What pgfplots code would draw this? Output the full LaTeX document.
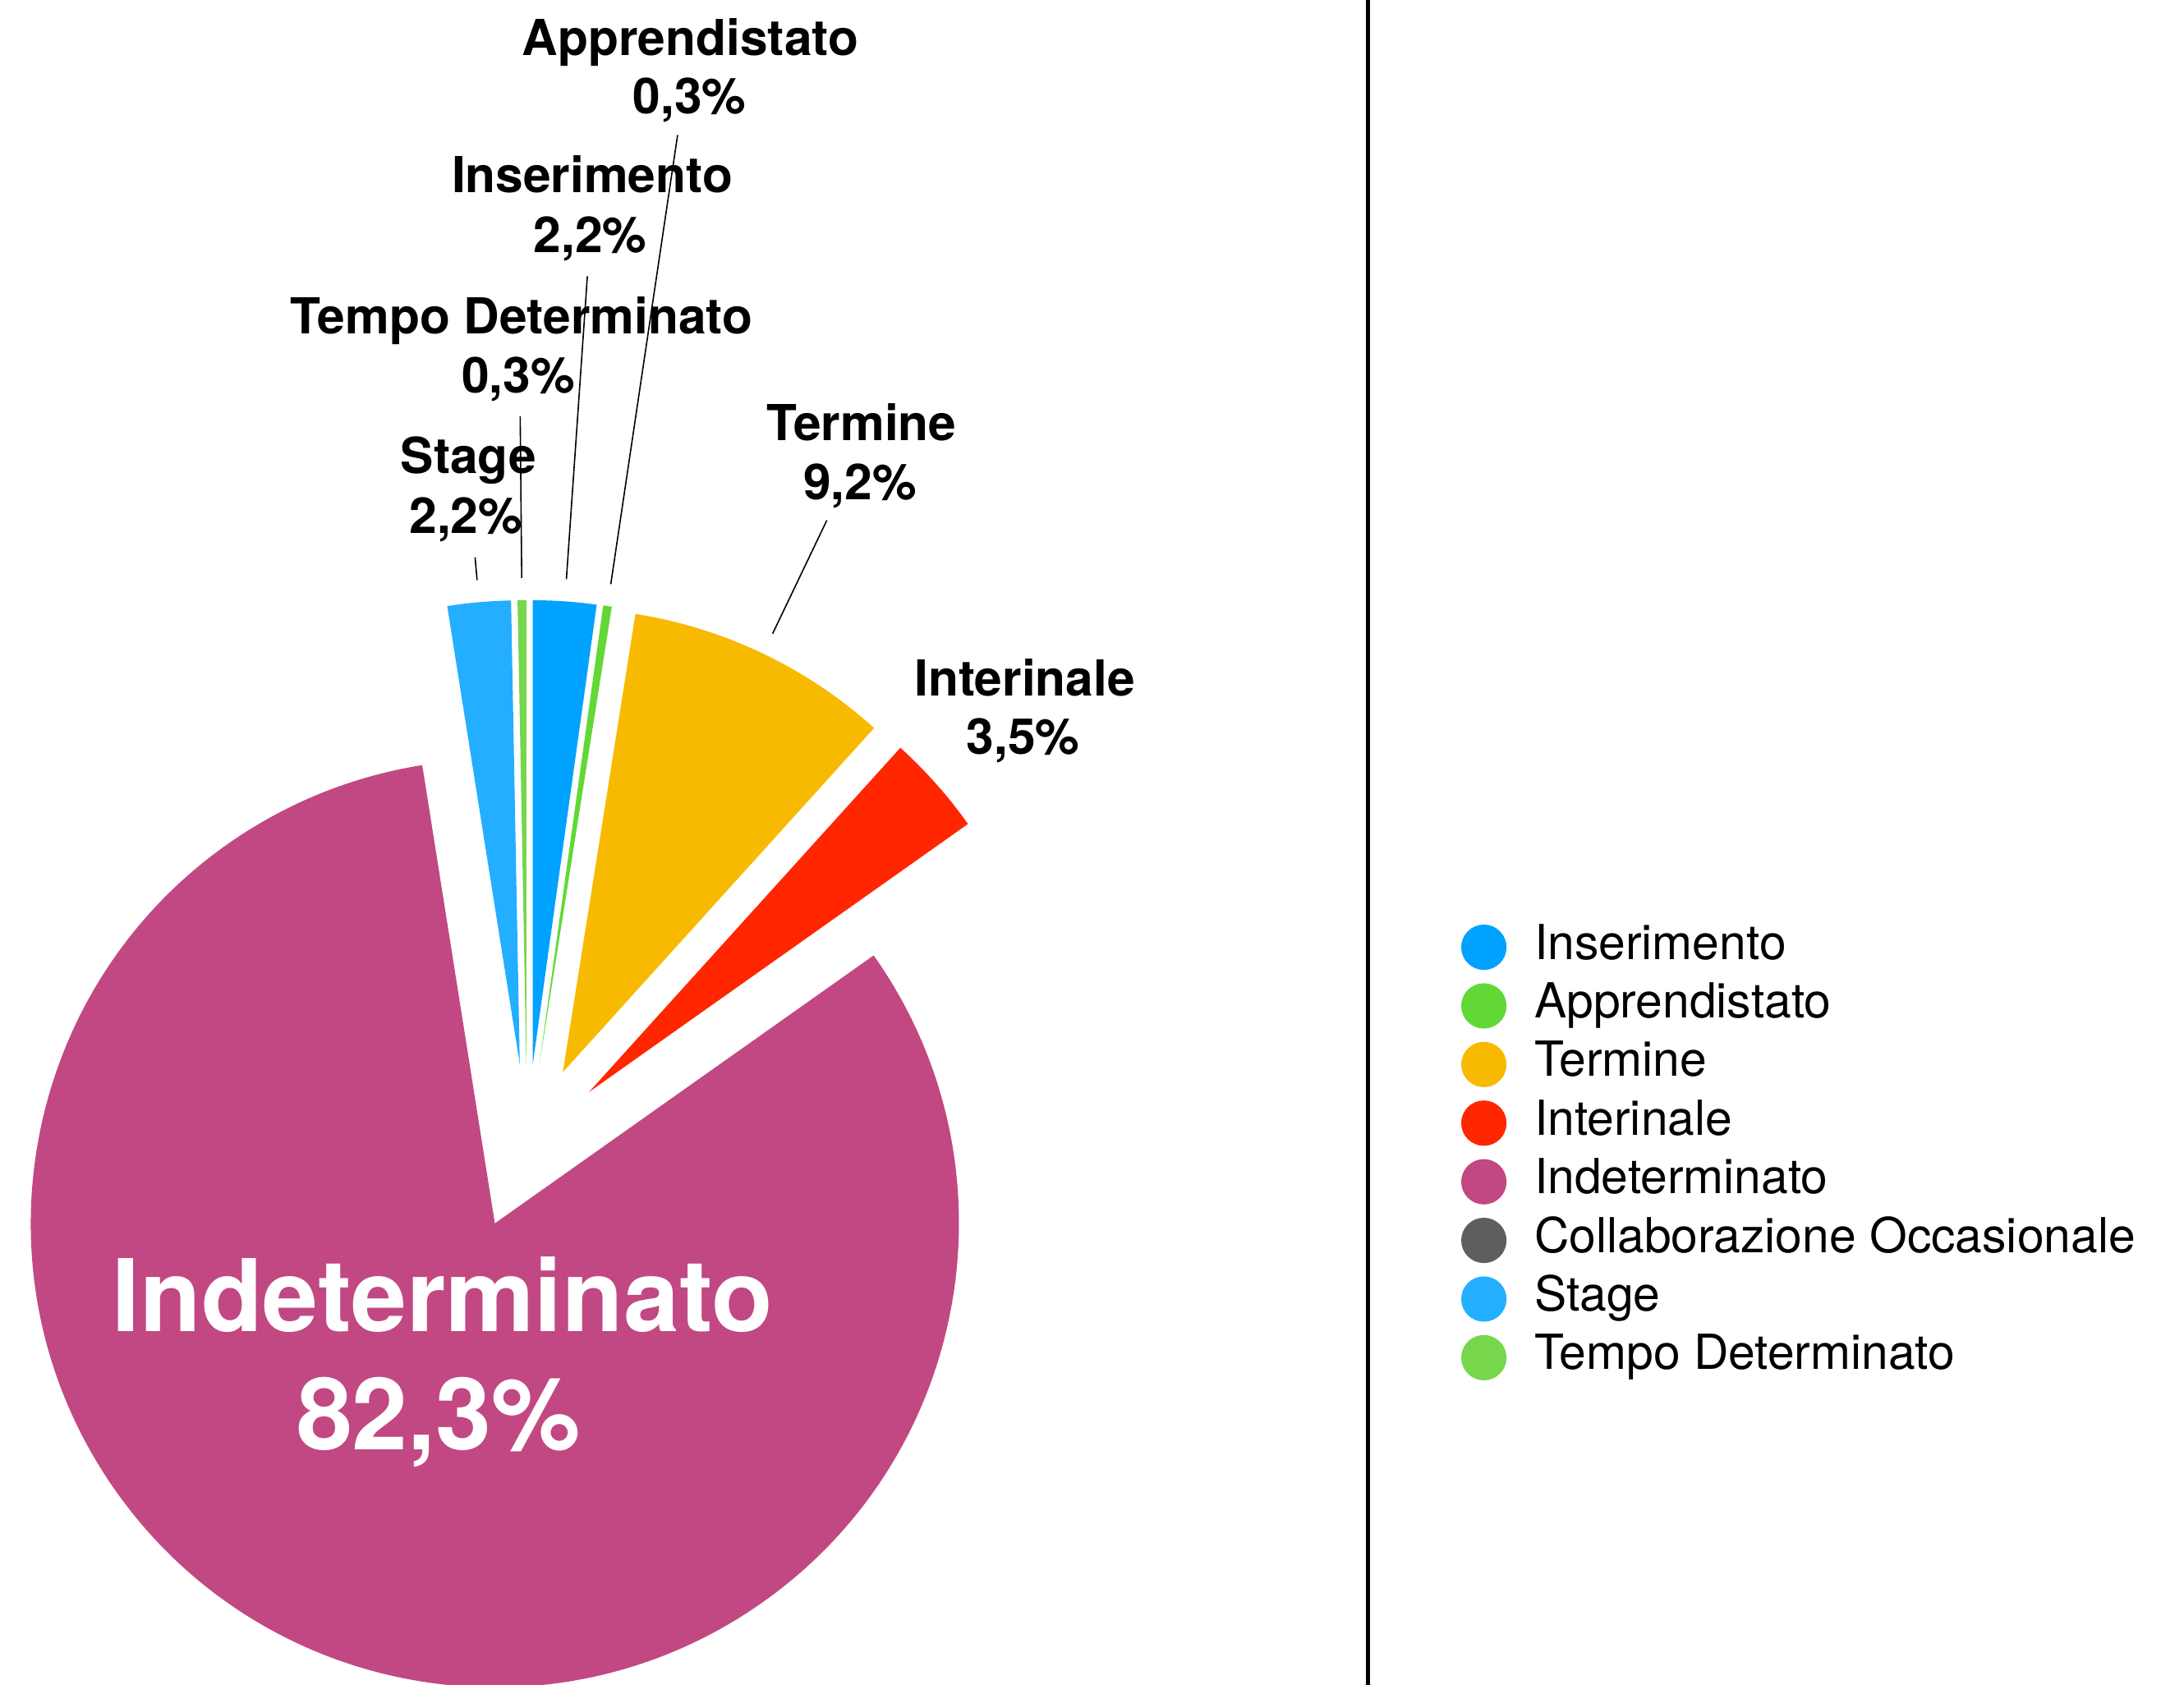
\documentclass[border=0pt]{standalone}
\usepackage{pgfplots}
\pgfplotsset{compat=1.18}
\usepackage{fontspec}
\setmainfont{TeX Gyre Heros}
\definecolor{cIns}{RGB}{0,162,255}
\definecolor{cApp}{RGB}{97,216,54}
\definecolor{cTer}{RGB}{248,186,0}
\definecolor{cInt}{RGB}{255,38,0}
\definecolor{cInd}{RGB}{193,72,131}
\definecolor{cCol}{RGB}{94,94,94}
\definecolor{cSta}{RGB}{36,174,255}
\definecolor{cTem}{RGB}{118,214,76}
\newcommand\lab{\bfseries\fontsize{15.1}{18}\selectfont}
\newcommand\biglab{\bfseries\fontsize{30.5}{36}\selectfont}
\begin{document}
\begin{tikzpicture}
\begin{axis}[name=ax, x=0.25pt, y=0.25pt,
  xmin=0, xmax=2659, ymin=0, ymax=2052,
  hide axis, clip=true,
  legend cell align=left,
  legend image code/.code={\fill[#1, draw=none] (6.9pt,0pt) circle (6.9pt);},
  legend style={at={(axis cs:1779,926)}, anchor=north west,
    draw=none, fill=none, inner sep=0pt, outer sep=0pt,
    row sep=4.05pt, column sep=8.5pt,
    font=\fontsize{14.7}{17}\selectfont,
    nodes={inner sep=0pt, text height=10.4pt, text depth=3.1pt}},
]
\addlegendimage{fill=cIns}\addlegendentry{Inserimento}
\addlegendimage{fill=cApp}\addlegendentry{Apprendistato}
\addlegendimage{fill=cTer}\addlegendentry{Termine}
\addlegendimage{fill=cInt}\addlegendentry{Interinale}
\addlegendimage{fill=cInd}\addlegendentry{Indeterminato}
\addlegendimage{fill=cCol}\addlegendentry{Collaborazione Occasionale}
\addlegendimage{fill=cSta}\addlegendentry{Stage}
\addlegendimage{fill=cTem}\addlegendentry{Tempo Determinato}
% pie: value (percent) / colour / leader-line outer length (0 = none)
\pgfplotsextra{%
  \gdef\cum{0}%
  \foreach \v/\c/\L in {2.2/cIns/962, 0.3/cApp/1145, 9.2/cTer/745,
      3.5/cInt/0, 82.3/cInd/0, 0/cCol/0, 2.2/cSta/620, 0.3/cTem/789}{%
    \pgfmathsetmacro\s{90-3.6*\cum}%
    \pgfmathsetmacro\e{\s-3.6*\v}%
    \pgfmathsetmacro\m{(\s+\e)/2}%
    \ifdim\v pt>0pt
      \fill[\c] ([shift={(\m:25.25pt)}]axis cs:641.7,655.2) -- ++(\s:141.25pt)
        arc[start angle=\s, end angle=\e, radius=141.25pt] -- cycle;
    \fi
    \ifdim\L pt>0pt
      \pgfmathsetmacro\ra{25.25+148}%
      \pgfmathsetmacro\rb{25.25+0.25*\L}%
      \draw[black, line width=0.4pt] ([shift={(\m:\ra pt)}]axis cs:641.7,655.2)
        -- ([shift={(\m:\rb pt)}]axis cs:641.7,655.2);
    \fi
    \pgfmathsetmacro\nc{\cum+\v}%
    \xdef\cum{\nc}%
  }%
}
\draw[black, line width=1.25pt] (axis cs:1665.5,0) -- (axis cs:1665.5,2052);
% labels
\node[anchor=base, font=\lab] at (axis cs:840.3,1984.5) {Apprendistato};
\node[anchor=base, font=\lab] at (axis cs:839.8,1913.5) {0,3\%};
\node[anchor=base, font=\lab] at (axis cs:721,1817.5) {Inserimento};
\node[anchor=base, font=\lab] at (axis cs:718.5,1744.5) {2,2\%};
\node[anchor=base, font=\lab] at (axis cs:635,1645.5) {Tempo Determinato};
\node[anchor=base, font=\lab] at (axis cs:631,1573.5) {0,3\%};
\node[anchor=base, font=\lab] at (axis cs:570.4,1475) {Stage};
\node[anchor=base, font=\lab] at (axis cs:567.4,1402) {2,2\%};
\node[anchor=base, font=\lab] at (axis cs:1049,1515.2) {Termine};
\node[anchor=base, font=\lab] at (axis cs:1047,1443.8) {9,2\%};
\node[anchor=base, font=\lab] at (axis cs:1247.5,1204.5) {Interinale};
\node[anchor=base, font=\lab] at (axis cs:1245.8,1133) {3,5\%};
\node[anchor=base, font=\biglab, text=white] at (axis cs:539,430.3) {Indeterminato};
\node[anchor=base, font=\biglab, text=white] at (axis cs:534,286) {82,3\%};
\end{axis}
\pgfresetboundingbox
\useasboundingbox (ax.south west) rectangle (ax.north east);
\end{tikzpicture}
\end{document}
